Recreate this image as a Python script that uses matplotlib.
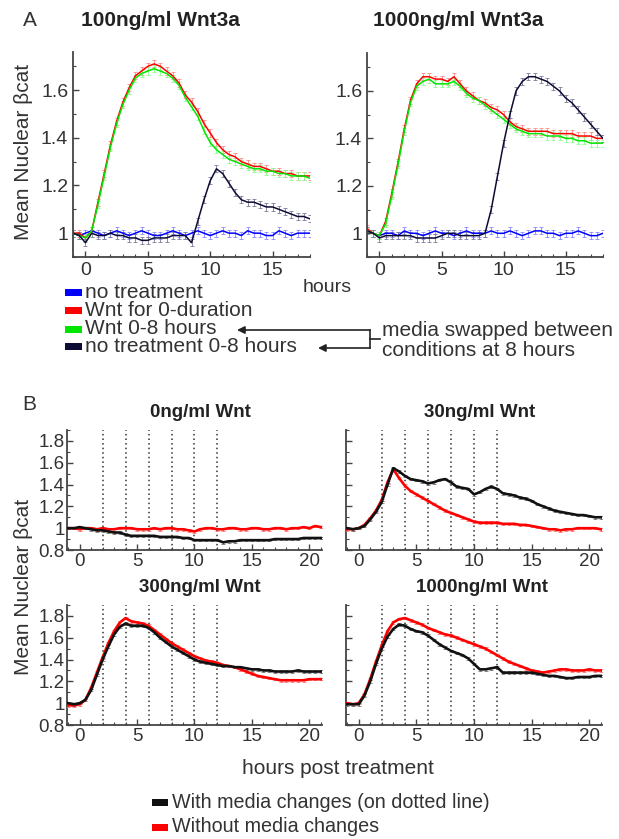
import matplotlib
matplotlib.use('Agg')
import matplotlib.pyplot as plt
from matplotlib.patches import Rectangle, FancyArrowPatch
from matplotlib.lines import Line2D
import numpy as np

plt.rcParams['font.family'] = ['Liberation Sans', 'DejaVu Sans']

# ---------------- data: panel A (hours -1 .. 18, every 0.5 h) ----------------
tA = np.arange(-1, 18.01, 0.5)
a100_none = [1.00, 0.99, 1.00, 1.01, 1.00, 0.99, 1.00, 1.01, 1.00, 0.99,
             1.00, 1.01, 1.00, 0.99, 0.99, 1.00, 1.01, 1.00, 0.99, 1.00,
             1.01, 1.00, 0.99, 1.00, 1.01, 1.00, 1.00, 0.99, 1.01, 1.00,
             1.00, 0.99, 0.99, 1.01, 1.00, 0.99, 1.00, 1.00, 1.00]
a100_wnt = [1.00, 1.00, 0.98, 1.01, 1.13, 1.25, 1.37, 1.47, 1.55, 1.61,
            1.66, 1.68, 1.70, 1.71, 1.70, 1.68, 1.66, 1.63, 1.58, 1.55,
            1.51, 1.46, 1.42, 1.38, 1.35, 1.33, 1.32, 1.30, 1.29, 1.28,
            1.28, 1.27, 1.26, 1.26, 1.25, 1.25, 1.24, 1.24, 1.24]
a100_wnt08 = [1.00, 0.99, 0.98, 1.01, 1.12, 1.24, 1.36, 1.46, 1.54, 1.60,
              1.65, 1.67, 1.68, 1.69, 1.68, 1.67, 1.65, 1.62, 1.57, 1.53,
              1.49, 1.43, 1.38, 1.35, 1.33, 1.31, 1.30, 1.29, 1.28, 1.27,
              1.27, 1.26, 1.26, 1.25, 1.25, 1.24, 1.24, 1.24, 1.23]
a100_none08 = [1.00, 0.99, 0.96, 1.00, 0.99, 0.99, 1.00, 0.99, 0.99, 0.98,
               0.98, 0.97, 0.97, 0.98, 0.98, 0.98, 0.99, 0.99, 0.99, 0.96,
               1.05, 1.14, 1.22, 1.27, 1.25, 1.21, 1.17, 1.14, 1.13, 1.13,
               1.12, 1.11, 1.11, 1.10, 1.09, 1.08, 1.07, 1.07, 1.06]

a1000_none = [1.01, 1.00, 0.99, 1.00, 1.00, 0.99, 1.01, 1.00, 1.00, 0.99,
              1.00, 1.01, 1.00, 1.00, 0.99, 1.00, 1.01, 1.00, 1.00, 1.00,
              1.01, 1.00, 1.00, 1.01, 1.00, 0.99, 1.00, 1.01, 1.01, 1.00,
              1.00, 0.99, 1.00, 1.00, 1.01, 1.00, 0.99, 0.99, 1.00]
a1000_wnt = [1.02, 1.00, 0.99, 1.05, 1.17, 1.30, 1.44, 1.56, 1.63, 1.66,
             1.66, 1.65, 1.65, 1.64, 1.66, 1.63, 1.60, 1.58, 1.56, 1.55,
             1.53, 1.52, 1.50, 1.47, 1.45, 1.44, 1.43, 1.43, 1.43, 1.43,
             1.42, 1.42, 1.42, 1.42, 1.41, 1.41, 1.41, 1.40, 1.40]
a1000_wnt08 = [1.01, 1.00, 0.99, 1.04, 1.16, 1.29, 1.43, 1.55, 1.62, 1.64,
               1.65, 1.63, 1.63, 1.63, 1.64, 1.62, 1.59, 1.57, 1.56, 1.54,
               1.52, 1.50, 1.48, 1.46, 1.44, 1.43, 1.42, 1.42, 1.42, 1.41,
               1.41, 1.41, 1.40, 1.40, 1.39, 1.39, 1.38, 1.38, 1.38]
a1000_none08 = [1.01, 1.00, 0.98, 0.99, 0.99, 0.99, 0.99, 0.99, 0.98, 0.98,
                0.98, 0.98, 0.99, 1.00, 1.00, 0.99, 0.99, 0.99, 0.99, 1.00,
                1.10, 1.24, 1.38, 1.50, 1.60, 1.64, 1.66, 1.66, 1.65, 1.64,
                1.62, 1.60, 1.57, 1.55, 1.52, 1.49, 1.46, 1.43, 1.40]

a_labels = ['no treatment', 'Wnt for 0-duration', 'Wnt 0-8 hours', 'no treatment 0-8 hours']
a_colors = ['#0000ff', '#ff0000', '#00e600', '#0c0c34']
a_ecolors = ['#8888ff', '#ff8888', '#88ff88', '#7a7a9a']

# ---------------- data: panel B (hours -1 .. 21, every 0.5 h) ----------------
tB = np.arange(-1, 21.01, 0.5)
b0_with = [1.00, 1.00, 1.01, 1.00, 0.99, 0.98, 0.98, 0.97, 0.96, 0.96,
           0.94, 0.93, 0.93, 0.93, 0.93, 0.93, 0.92, 0.92, 0.92, 0.92,
           0.91, 0.91, 0.89, 0.89, 0.89, 0.89, 0.89, 0.87, 0.88, 0.88,
           0.89, 0.89, 0.89, 0.89, 0.89, 0.89, 0.90, 0.90, 0.90, 0.90,
           0.90, 0.91, 0.91, 0.91, 0.91]
b0_without = [1.00, 1.00, 0.99, 1.00, 1.00, 0.99, 1.00, 0.99, 0.99, 1.00,
              1.00, 1.00, 0.99, 0.99, 0.99, 1.00, 0.99, 1.00, 1.00, 0.99,
              0.99, 0.98, 0.97, 0.99, 1.00, 1.00, 0.99, 0.99, 1.00, 1.00,
              0.99, 0.99, 1.00, 1.00, 0.99, 0.99, 1.00, 1.00, 0.99, 1.00,
              1.00, 1.01, 1.00, 1.02, 1.01]
b30_with = [1.00, 0.99, 1.00, 1.02, 1.08, 1.15, 1.24, 1.40, 1.55, 1.52,
            1.48, 1.45, 1.44, 1.43, 1.41, 1.42, 1.44, 1.45, 1.42, 1.38,
            1.37, 1.36, 1.31, 1.33, 1.36, 1.38, 1.36, 1.32, 1.31, 1.30,
            1.28, 1.27, 1.25, 1.22, 1.20, 1.18, 1.16, 1.15, 1.14, 1.13,
            1.12, 1.12, 1.11, 1.10, 1.10]
b30_without = [0.99, 0.99, 1.00, 1.03, 1.09, 1.16, 1.26, 1.42, 1.54, 1.46,
               1.39, 1.34, 1.31, 1.28, 1.25, 1.22, 1.19, 1.16, 1.14, 1.12,
               1.10, 1.08, 1.06, 1.05, 1.05, 1.05, 1.05, 1.04, 1.04, 1.04,
               1.03, 1.03, 1.02, 1.01, 1.00, 0.99, 0.99, 0.98, 0.99, 0.99,
               1.00, 1.00, 1.00, 1.00, 0.99]
b300_with = [1.00, 0.99, 1.00, 1.03, 1.12, 1.26, 1.40, 1.52, 1.63, 1.70,
             1.73, 1.71, 1.71, 1.71, 1.69, 1.65, 1.60, 1.56, 1.52, 1.49,
             1.46, 1.43, 1.40, 1.38, 1.37, 1.36, 1.35, 1.34, 1.34, 1.33,
             1.33, 1.32, 1.31, 1.31, 1.30, 1.30, 1.29, 1.29, 1.29, 1.29,
             1.30, 1.29, 1.29, 1.29, 1.29]
b300_without = [0.98, 0.98, 0.99, 1.03, 1.14, 1.28, 1.42, 1.55, 1.66, 1.74,
                1.78, 1.75, 1.74, 1.73, 1.71, 1.67, 1.63, 1.59, 1.55, 1.52,
                1.49, 1.46, 1.43, 1.41, 1.39, 1.38, 1.37, 1.35, 1.34, 1.33,
                1.31, 1.29, 1.27, 1.25, 1.24, 1.23, 1.22, 1.21, 1.21, 1.21,
                1.21, 1.21, 1.22, 1.22, 1.22]
b1000_with = [0.99, 0.99, 0.99, 1.07, 1.20, 1.36, 1.50, 1.61, 1.68, 1.72,
              1.71, 1.68, 1.66, 1.65, 1.62, 1.58, 1.54, 1.51, 1.48, 1.46,
              1.44, 1.41, 1.36, 1.31, 1.31, 1.32, 1.33, 1.28, 1.28, 1.28,
              1.28, 1.28, 1.28, 1.27, 1.26, 1.25, 1.25, 1.24, 1.23, 1.23,
              1.24, 1.24, 1.24, 1.25, 1.25]
b1000_without = [1.00, 0.99, 1.00, 1.08, 1.22, 1.38, 1.53, 1.66, 1.74, 1.77,
                 1.78, 1.76, 1.74, 1.72, 1.69, 1.67, 1.65, 1.63, 1.62, 1.60,
                 1.58, 1.56, 1.54, 1.52, 1.50, 1.47, 1.44, 1.41, 1.38, 1.36,
                 1.34, 1.32, 1.30, 1.29, 1.28, 1.29, 1.30, 1.31, 1.31, 1.30,
                 1.30, 1.30, 1.31, 1.30, 1.30]
media_change_hours = [2, 4, 6, 8, 10, 12]
b_titles = ['0ng/ml Wnt', '30ng/ml Wnt', '300ng/ml Wnt', '1000ng/ml Wnt']
b_labels = ['With media changes (on dotted line)', 'Without media changes']
b_colors = ['#111111', '#ff0000']
b_ecolors = ['#777777', '#ff7777']

# ---------------- figure ----------------
W, H = 619, 839
fig = plt.figure(figsize=(W / 100, H / 100), dpi=100)
TXT = '#333333'


def fp(x, y):
    return (x / W, 1 - y / H)


def ax_at(x0, y0, x1, y1):
    return fig.add_axes([x0 / W, 1 - y1 / H, (x1 - x0) / W, (y1 - y0) / H])


def style(ax, size):
    for s in ('top', 'right'):
        ax.spines[s].set_visible(False)
    for s in ('left', 'bottom'):
        ax.spines[s].set_color('#444444')
        ax.spines[s].set_linewidth(1.3)
    ax.tick_params(which='both', direction='in', colors='#444444',
                   labelcolor=TXT, labelsize=size)
    ax.tick_params(which='major', length=4, width=1.0)
    ax.tick_params(which='minor', length=2.5, width=0.8)


# Panel A
axA = [ax_at(73, 52, 310, 257), ax_at(367, 53, 603, 257)]
seriesA = [[a100_none, a100_wnt, a100_wnt08, a100_none08],
           [a1000_none, a1000_wnt, a1000_wnt08, a1000_none08]]
for ax, ser in zip(axA, seriesA):
    for y, c, ec in zip(ser, a_colors, a_ecolors):
        ax.errorbar(tA, y, yerr=0.015, color=c, ecolor=ec, lw=1.1,
                    elinewidth=0.6, capsize=1.4, capthick=0.6)
    ax.set_xlim(-1, 18)
    ax.set_ylim(0.9, 1.76)
    ax.set_xticks([0, 5, 10, 15])
    ax.set_xticks(np.arange(-1, 19, 1), minor=True)
    ax.set_yticks([1, 1.2, 1.4, 1.6])
    ax.set_yticklabels(['1', '1.2', '1.4', '1.6'])
    ax.set_yticks(np.arange(0.9, 1.76, 0.1), minor=True)
    style(ax, 14)

# Panel B
axB = [ax_at(67, 430, 322, 550), ax_at(346, 430, 602, 550),
       ax_at(67, 605, 322, 725), ax_at(346, 605, 602, 725)]
seriesB = [[b0_with, b0_without], [b30_with, b30_without],
           [b300_with, b300_without], [b1000_with, b1000_without]]
for i, (ax, ser) in enumerate(zip(axB, seriesB)):
    for h in media_change_hours:
        ax.axvline(h, color='#333333', ls=(0, (1, 2)), lw=1.1, zorder=1)
    for y, c, ec in reversed(list(zip(ser, b_colors, b_ecolors))):
        ax.errorbar(tB, y, yerr=0.012, color=c, ecolor=ec, lw=1.9,
                    elinewidth=0.6, capsize=1.2, capthick=0.6, zorder=3)
    ax.set_xlim(-1.1, 21.1)
    ax.set_ylim(0.8, 1.9)
    ax.set_xticks([0, 5, 10, 15, 20])
    ax.set_xticks(np.arange(-1, 22, 1), minor=True)
    ax.set_yticks([0.8, 1, 1.2, 1.4, 1.6, 1.8])
    ax.set_yticklabels(['0.8', '1', '1.2', '1.4', '1.6', '1.8'])
    ax.set_yticks(np.arange(0.8, 1.91, 0.1), minor=True)
    style(ax, 13.5)
    ax.tick_params(axis='x', pad=2)
    ax.tick_params(axis='y', pad=1.5)
    if i % 2 == 1:
        ax.set_yticklabels([])

# Titles and labels
fig.text(*fp(30, 21), 'A', fontsize=15, color=TXT, ha='center', va='center')
fig.text(*fp(29, 405), 'B', fontsize=15, color=TXT, ha='center', va='center')
fig.text(*fp(160, 20), '100ng/ml Wnt3a', fontsize=15, fontweight='bold', color='#222222', ha='center', va='center')
fig.text(*fp(458, 20), '1000ng/ml Wnt3a', fontsize=15, fontweight='bold', color='#222222', ha='center', va='center')
b_title_pos = [(200, 413), (480, 413), (200, 588), (482, 588)]
for (x, y), t in zip(b_title_pos, b_titles):
    fig.text(*fp(x, y), t, fontsize=13.5, fontweight='bold', color='#222222', ha='center', va='center')
fig.text(*fp(24, 152), 'Mean Nuclear βcat', fontsize=15, rotation=90, color=TXT, ha='center', va='center')
fig.text(*fp(24, 587), 'Mean Nuclear βcat', fontsize=15, rotation=90, color=TXT, ha='center', va='center')
fig.text(*fp(303, 288), 'hours', fontsize=14, color=TXT, ha='left', va='center')
fig.text(*fp(338, 768), 'hours post treatment', fontsize=15, color=TXT, ha='center', va='center')

# Legend A
legA_y = [292, 310, 329, 347]
for y, lab, c in zip(legA_y, a_labels, a_colors):
    fig.add_artist(Rectangle(fp(65, y + 3.5), 17 / W, 7 / H, transform=fig.transFigure,
                             color=c, lw=0))
    fig.text(*fp(85, y), lab, fontsize=15, color=TXT, ha='left', va='center')

# Arrows for media swap annotation
for (xtip, y) in [(237, 330), (318, 348)]:
    fig.add_artist(FancyArrowPatch(fp(370, y), fp(xtip, y), transform=fig.transFigure,
                                   arrowstyle='-|>', mutation_scale=11, lw=1.2,
                                   color='#222222', shrinkA=0, shrinkB=0))
fig.add_artist(Line2D([370 / W, 370 / W], [1 - 330 / H, 1 - 348 / H], transform=fig.transFigure,
                      color='#222222', lw=1.2))
fig.add_artist(Line2D([370 / W, 380 / W], [1 - 339 / H, 1 - 339 / H], transform=fig.transFigure,
                      color='#222222', lw=1.2))
fig.text(*fp(382, 331), 'media swapped between', fontsize=15, color=TXT, ha='left', va='center')
fig.text(*fp(382, 350), 'conditions at 8 hours', fontsize=15, color=TXT, ha='left', va='center')

# Legend B
for y, lab, c in zip([802, 827], b_labels, b_colors):
    fig.add_artist(Rectangle(fp(152, y + 3.5), 16 / W, 7 / H, transform=fig.transFigure,
                             color=c, lw=0))
    fig.text(*fp(172, y), lab, fontsize=14.2, color=TXT, ha='left', va='center')

fig.savefig('out.png', dpi=100)
